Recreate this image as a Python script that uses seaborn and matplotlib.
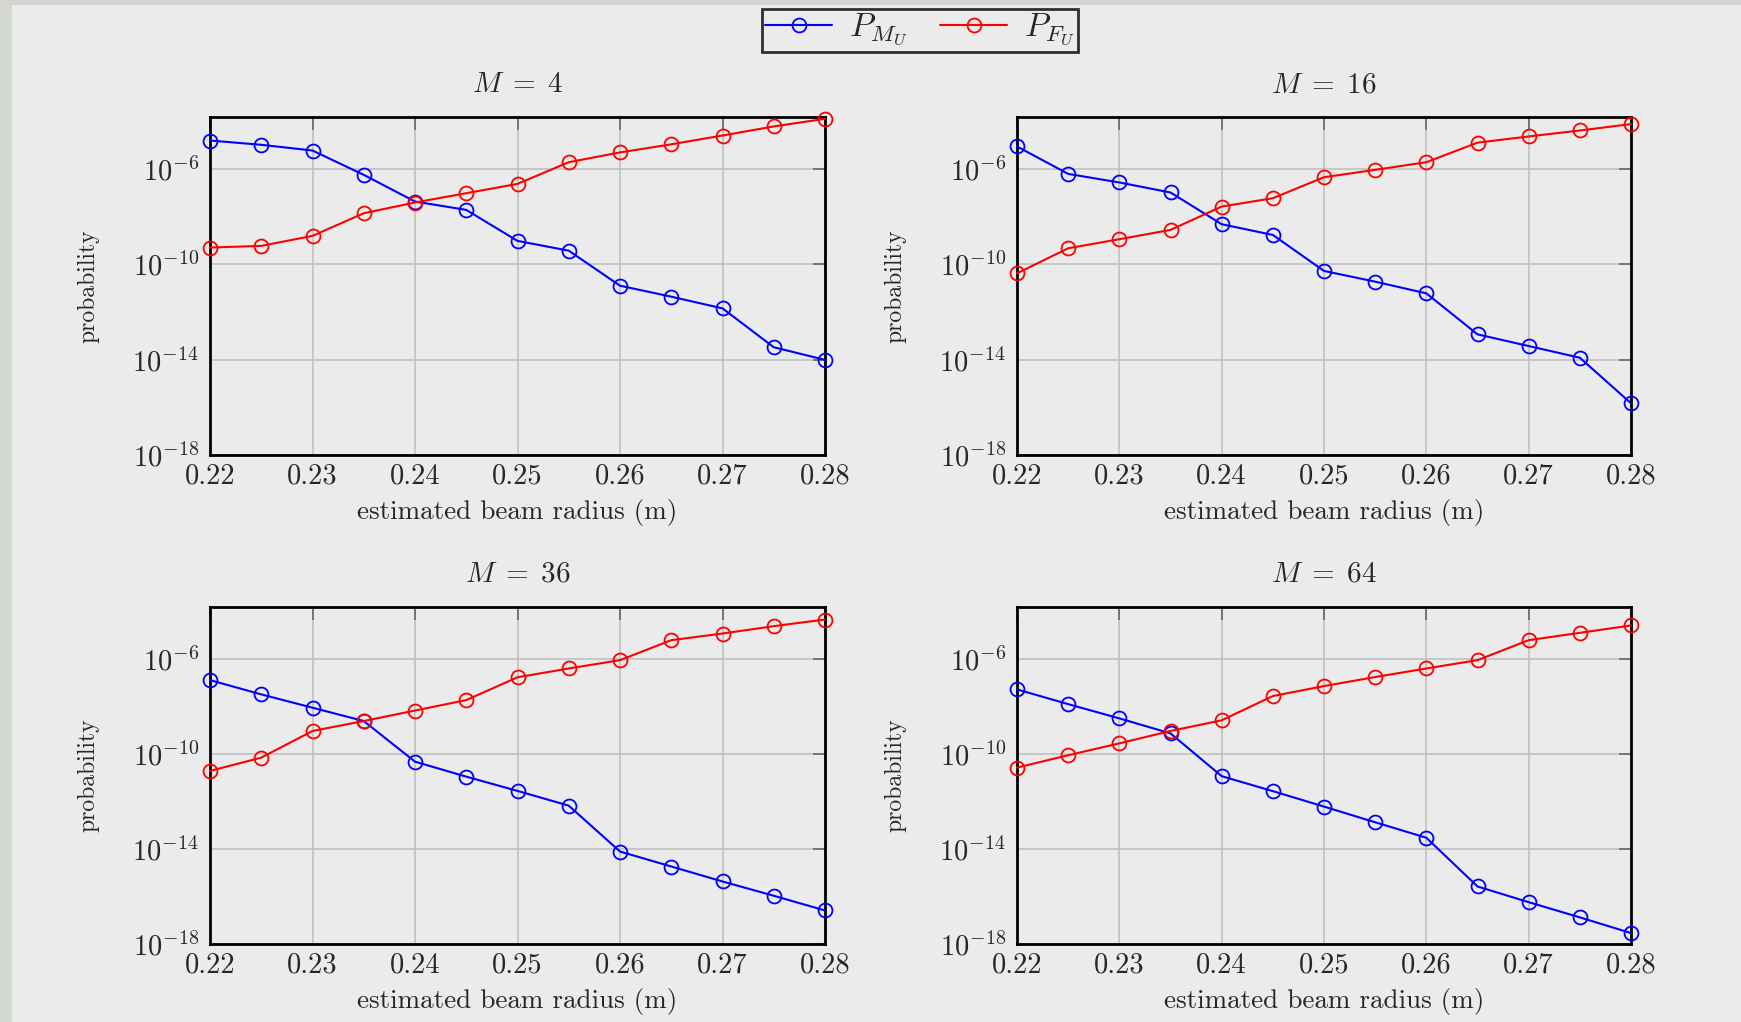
import matplotlib
matplotlib.use("Agg")
import matplotlib.pyplot as plt
from matplotlib.patches import Rectangle
import numpy as np
import pandas as pd
import seaborn as sns

# ── Data (log10 of probability) ─────────────────────────────────────────────
radius = [0.22, 0.225, 0.23, 0.235, 0.24, 0.245, 0.25, 0.255, 0.26, 0.265, 0.27, 0.275, 0.28]
m_values = [4, 16, 36, 64]

pmu_m4 = [-4.81, -4.99, -5.23, -6.25, -7.37, -7.72, -9.02, -9.43, -10.90, -11.36, -11.85, -13.48, -14.01]
pfu_m4 = [-9.30, -9.23, -8.81, -7.86, -7.41, -7.02, -6.63, -5.72, -5.31, -4.97, -4.60, -4.22, -3.90]

pmu_m16 = [-5.06, -6.21, -6.57, -6.99, -8.32, -8.77, -10.28, -10.73, -11.22, -12.94, -13.43, -13.92, -15.83]
pfu_m16 = [-10.38, -9.33, -8.95, -8.56, -7.58, -7.23, -6.35, -6.04, -5.72, -4.90, -4.64, -4.39, -4.12]

pmu_m36 = [-6.90, -7.50, -8.06, -8.62, -10.33, -10.96, -11.56, -12.18, -14.11, -14.74, -15.37, -15.97, -16.59]
pfu_m36 = [-10.72, -10.16, -9.04, -8.62, -8.18, -7.74, -6.78, -6.41, -6.06, -5.22, -4.94, -4.63, -4.35]

pmu_m64 = [-7.29, -7.91, -8.51, -9.14, -10.94, -11.57, -12.22, -12.88, -13.53, -15.58, -16.24, -16.88, -17.54]
pfu_m64 = [-10.58, -10.06, -9.56, -9.04, -8.59, -7.57, -7.15, -6.77, -6.41, -6.06, -5.22, -4.91, -4.60]

series_labels = [r"$P_{M_U}$", r"$P_{F_U}$"]
panel_data = {
    4: (pmu_m4, pfu_m4),
    16: (pmu_m16, pfu_m16),
    36: (pmu_m36, pfu_m36),
    64: (pmu_m64, pfu_m64),
}
y_ticks = [1e-18, 1e-14, 1e-10, 1e-6]
x_ticks = [0.22, 0.23, 0.24, 0.25, 0.26, 0.27, 0.28]

BG = "#ebebeb"

sns.set_style("white")
plt.rcParams["font.family"] = ["cmr10", "DejaVu Serif"]
plt.rcParams["mathtext.fontset"] = "cm"
plt.rcParams["axes.formatter.use_mathtext"] = True
plt.rcParams["axes.unicode_minus"] = False

W, H = 1741, 1022
fig = plt.figure(figsize=(W / 100, H / 100), dpi=100, facecolor=BG)

# screenshot frame strips
fig.patches.append(Rectangle((0, 0), 12 / W, 1, transform=fig.transFigure,
                             facecolor="#d3d8cf", edgecolor="none", zorder=-1))
fig.patches.append(Rectangle((0, 1 - 5 / H), 1, 5 / H, transform=fig.transFigure,
                             facecolor="#d4d4d4", edgecolor="none", zorder=-1))

# axes boxes in pixels: (left, top, right, bottom)
boxes = {
    4: (210, 117, 825, 455),
    16: (1017, 117, 1631, 455),
    36: (210, 607, 825, 944),
    64: (1017, 607, 1631, 944),
}
palette = {series_labels[0]: "#0000ff", series_labels[1]: "#ff0000"}

for m in m_values:
    l, t, r, b = boxes[m]
    ax = fig.add_axes([l / W, 1 - b / H, (r - l) / W, (b - t) / H])
    ax.set_facecolor(BG)
    pmu, pfu = panel_data[m]
    df = pd.DataFrame({
        "radius": radius * 2,
        "prob": np.power(10.0, pmu + pfu),
        "series": [series_labels[0]] * len(radius) + [series_labels[1]] * len(radius),
    })
    sns.lineplot(
        data=df, x="radius", y="prob", hue="series", palette=palette,
        marker="o", markersize=10, markerfacecolor="none", markeredgewidth=1.3,
        linewidth=1.5, ax=ax, legend=False, clip_on=False, zorder=3,
    )
    for line in ax.lines:
        line.set_markeredgecolor(line.get_color())
    ax.set_yscale("log")
    ax.set_xlim(0.22, 0.28)
    ax.set_ylim(1e-18, 1.5e-4)
    ax.set_xticks(x_ticks)
    ax.set_xticklabels([f"{v:.2f}" for v in x_ticks])
    ax.set_yticks(y_ticks)
    ax.yaxis.set_minor_locator(matplotlib.ticker.NullLocator())
    ax.grid(True, color="#bdbdbd", linewidth=1.1)
    ax.tick_params(axis="both", which="major", direction="in", length=9, width=1.2,
                   color="#666666", labelsize=20.5, top=True, right=True, pad=6)
    ax.tick_params(axis="y", pad=8)
    for s in ax.spines.values():
        s.set_visible(True)
        s.set_color("black")
        s.set_linewidth(2)
    ax.set_xlabel("estimated beam radius (m)", fontsize=19.5, labelpad=7)
    ax.set_ylabel("probability", fontsize=17, labelpad=24)
    ax.set_title(rf"$M\;=\;{m}$", fontsize=21, pad=18)

handles = [
    plt.Line2D([], [], color="#0000ff", marker="o", markersize=10, markerfacecolor="none",
               markeredgewidth=1.3, linewidth=1.5),
    plt.Line2D([], [], color="#ff0000", marker="o", markersize=10, markerfacecolor="none",
               markeredgewidth=1.3, linewidth=1.5),
]
leg = fig.legend(handles, series_labels, loc="upper center", ncol=2,
                 bbox_to_anchor=(920 / W, 1 - 9 / H), fontsize=24, frameon=True,
                 fancybox=False, handlelength=2.0, columnspacing=1.0,
                 borderpad=0.1, handletextpad=0.5, borderaxespad=0)
leg.get_frame().set_edgecolor("black")
leg.get_frame().set_linewidth(2)
leg.get_frame().set_facecolor(BG)

fig.savefig("out.png", dpi=100, facecolor=BG)
